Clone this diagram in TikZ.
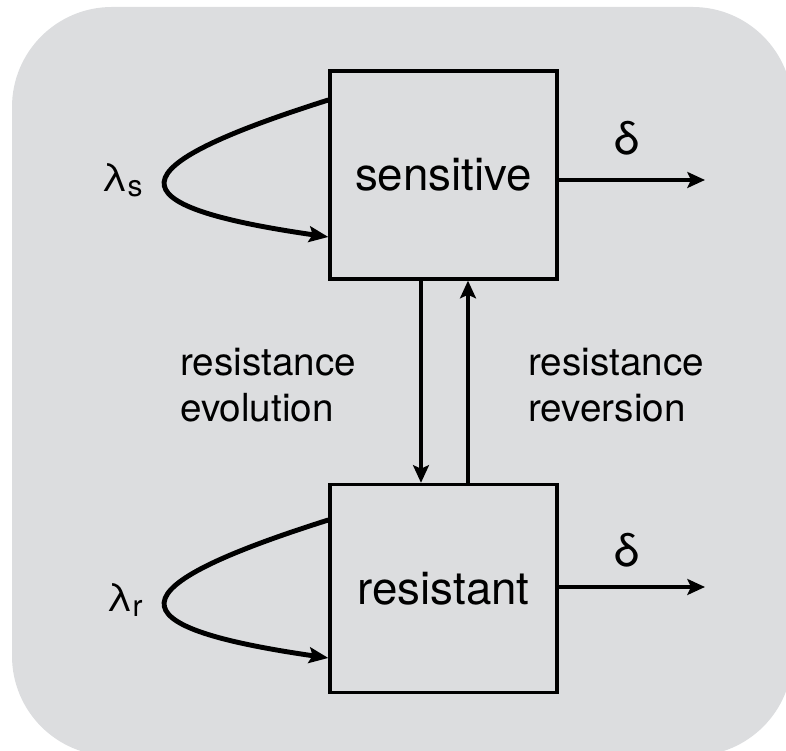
\documentclass[tikz,border=0pt]{standalone}
\usepackage{fontspec}
\setmainfont{TeX Gyre Heros}
\usetikzlibrary{arrows.meta}
\definecolor{panelgray}{RGB}{220,221,223}

\begin{document}
\begin{tikzpicture}[
        box/.style={draw,line width=1.9pt,minimum width=4.54cm,minimum height=4.16cm,inner sep=0pt,font=\fontsize{26}{30}\selectfont},
        flow/.style={line width=2pt,-{Stealth[length=10pt,width=9pt,inset=2pt]}},
        loop/.style={line width=2.8pt,-{Stealth[length=11pt,width=9pt,inset=2pt]}},
        rate/.style={font=\fontsize{26}{30}\selectfont},
        caption/.style={align=left,font=\fontsize{22}{26}\selectfont}
    ]
        \useasboundingbox (0,0) rectangle (15.72,15.02);
        \clip (0,0) rectangle (15.72,15.02);
        \fill[panelgray,rounded corners=2cm] (0.24,-0.1) rectangle (15.85,14.88);
        \node[box] (sens) at (8.87,11.52) {sensitive};
        \node[box] (res) at (8.87,3.25) {resistant};
        % self renewal loops
        \draw[loop] ([yshift=1.5cm]sens.west) .. controls +(-4.3,-1.36) and +(-4.36,0.63) .. ([yshift=-1.24cm]sens.west);
        \draw[loop] ([yshift=1.37cm]res.west) .. controls +(-4.3,-1.36) and +(-4.36,0.63) .. ([yshift=-1.39cm]res.west);
        \node[anchor=east,inner sep=0pt] (lamS) at (2.86,11.42) {\fontsize{22}{26}\selectfont λ\raisebox{-0.1cm}{\fontsize{17}{20}\selectfont s}};
        \node[anchor=east,inner sep=0pt] (lamR) at (2.86,3.02) {\fontsize{22}{26}\selectfont λ\raisebox{-0.1cm}{\fontsize{17}{20}\selectfont r}};
        % death
        \coordinate (outS) at (14.1,11.42);
        \coordinate (outR) at (14.1,3.28);
        \draw[flow] (sens.east |- outS) -- (outS);
        \draw[flow] (res.east |- outR) -- (outR);
        \node[rate] (dS) at (12.54,12.26) {δ};
        \node[rate] (dR) at (12.54,4.02) {δ};
        % switching
        \draw[flow] ([xshift=-0.45cm]sens.south) -- ([xshift=-0.45cm]res.north);
        \draw[flow] ([xshift=0.49cm]res.north) -- ([xshift=0.49cm]sens.south);
        \node[caption] (evo) at (5.36,7.32) {resistance\\evolution};
        \node[caption] (rev) at (12.32,7.32) {resistance\\reversion};
    \end{tikzpicture}
\end{document}
